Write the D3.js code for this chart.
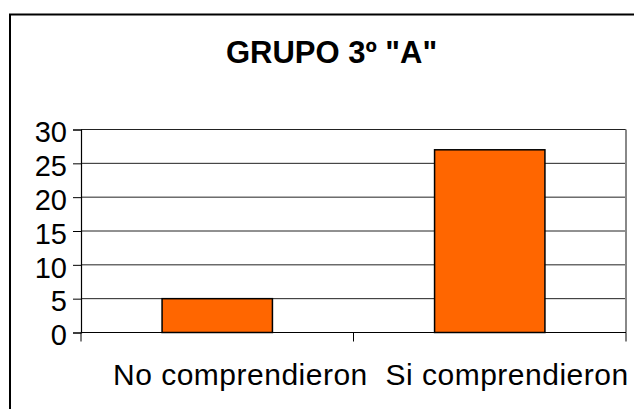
<!DOCTYPE html>
<html><head><meta charset="utf-8">
<script src="https://cdn.jsdelivr.net/npm/d3@7"></script>
<style>html,body{margin:0;padding:0;background:#fff;overflow:hidden}</style>
</head><body>
<svg id="chart" width="634" height="409"></svg>
<script>
const title = 'GRUPO 3º "A"';
const categories = ["No comprendieron", "Si comprendieron"];
const values = [5, 27];
const yTicks = [0, 5, 10, 15, 20, 25, 30];

const svg = d3.select("#chart");
const plotLeft = 81, plotRight = 626, plotTop = 129.5, plotBottom = 332.5;

// outer frame (extends past window)
svg.append("rect").attr("x", 10).attr("y", 14.5).attr("width", 700).attr("height", 500)
  .attr("fill", "none").attr("stroke", "#000").attr("stroke-width", 2);

svg.append("text").attr("x", 331.5).attr("y", 63).attr("text-anchor", "middle")
  .attr("font-family", "Liberation Sans, Arial, sans-serif").attr("font-weight", "bold")
  .attr("font-size", 31).attr("fill", "#000").text(title);

const x = d3.scaleBand().domain(categories).range([plotLeft, plotRight]).padding(0);
const y = d3.scaleLinear().domain([0, 30]).range([plotBottom, plotTop]);

// gridlines
svg.append("g").selectAll("line").data(yTicks.filter(d => d > 0)).join("line")
  .attr("x1", plotLeft).attr("x2", plotRight).attr("y1", d => y(d)).attr("y2", d => y(d))
  .attr("stroke", "#222").attr("stroke-width", 1);

// right plot border
svg.append("line").attr("x1", plotRight).attr("x2", plotRight).attr("y1", plotTop).attr("y2", plotBottom)
  .attr("stroke", "#888").attr("stroke-width", 2);

// bars
const bw = x.bandwidth() * 0.405;
svg.append("g").selectAll("rect").data(categories).join("rect")
  .attr("x", d => x(d) + (x.bandwidth() - bw) / 2)
  .attr("y", (d, i) => y(values[i]))
  .attr("width", bw)
  .attr("height", (d, i) => y(0) - y(values[i]))
  .attr("fill", "#FF6600").attr("stroke", "#000").attr("stroke-width", 1.5);

// y axis
const yAxis = d3.axisLeft(y).tickValues(yTicks).tickSize(8).tickPadding(6);
const gy = svg.append("g").attr("transform", `translate(${plotLeft},0)`).call(yAxis);
gy.select(".domain").attr("stroke", "#000").attr("stroke-width", 1.2);
gy.selectAll(".tick line").attr("stroke", "#000");
gy.selectAll(".tick text").attr("font-family", "Liberation Sans, Arial, sans-serif")
  .attr("font-size", 29).attr("fill", "#000").attr("dy", "0.42em").attr("x", -14);

// x axis line + ticks at band boundaries
const bounds = [plotLeft].concat(categories.map(c => x(c) + x.bandwidth()));
svg.append("line").attr("x1", plotLeft).attr("x2", plotRight).attr("y1", plotBottom).attr("y2", plotBottom)
  .attr("stroke", "#000").attr("stroke-width", 1.2);
svg.append("g").selectAll("line").data(bounds).join("line")
  .attr("x1", d => d).attr("x2", d => d).attr("y1", plotBottom).attr("y2", plotBottom + 9)
  .attr("stroke", "#000").attr("stroke-width", 1);

// category labels
svg.append("g").selectAll("text").data(categories).join("text")
  .attr("x", d => x(d) + 32).attr("y", 385)
  .attr("font-family", "Liberation Sans, Arial, sans-serif").attr("font-size", 30)
  .attr("letter-spacing", "0.5px").attr("fill", "#000").text(d => d);
</script>
</body></html>
